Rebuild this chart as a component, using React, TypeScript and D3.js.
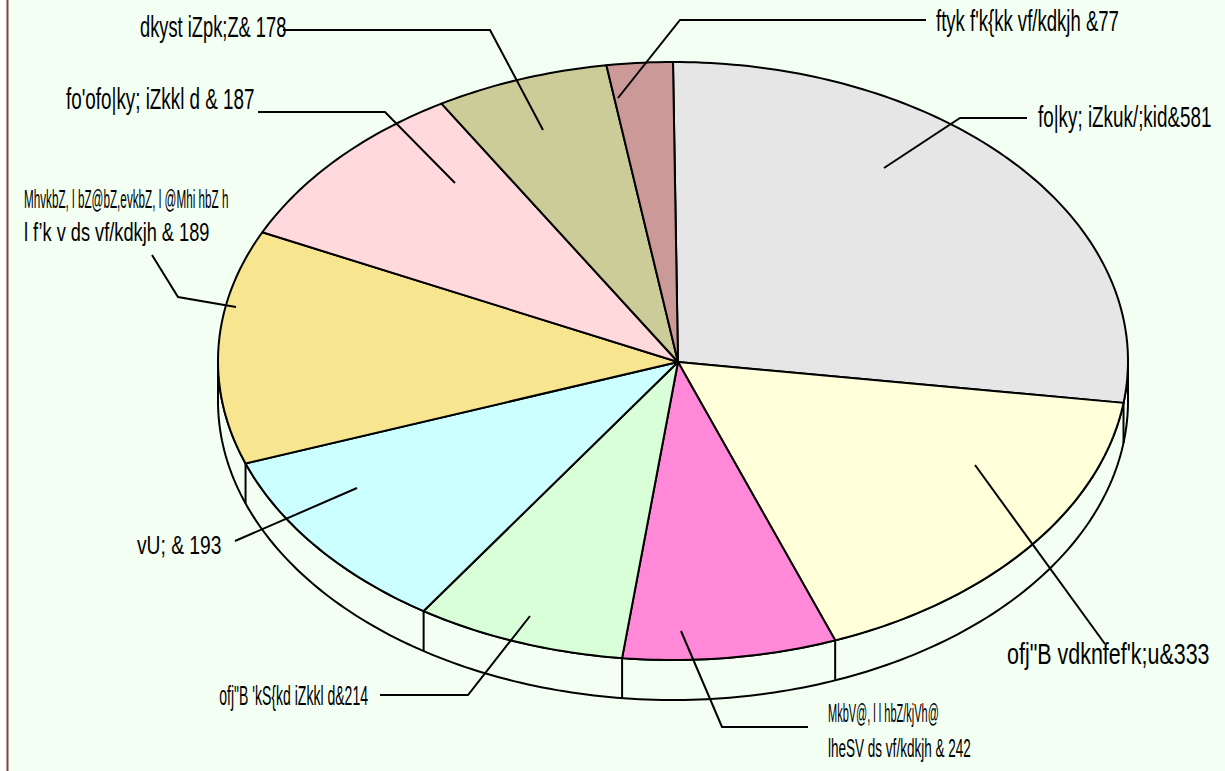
import { useEffect, useRef } from "react"
import * as d3 from "d3"

// slice values, clockwise from 12 o'clock
const values = [581, 333, 242, 214, 193, 189, 187, 178, 77]

// label text (value is appended to the last line)
const labelLines: string[][] = [
  ["fo|ky;  iZkuk/;kid&"],
  ["ofj\"B vdknfef'k;u&"],
  ["MkbV@, l l hbZ/kjVh@", "lheSV ds vf/kdkjh & "],
  ["ofj\"B 'kS{kd iZkkl d&"],
  ["vU;  & "],
  ["MhvkbZ, l bZ@bZ,evkbZ, l @Mhi hbZ h", "l  f\u2019k v  ds vf/kdkjh & "],
  ["fo'ofo|ky;  iZkkl d & "],
  ["dkyst iZpk;Z& "],
  ["ftyk f'k{kk vf/kdkjh &"],
]

const sliceColors = ["#e6e6e6", "#ffffd9", "#ff88d8", "#d9ffd9", "#ccffff", "#f7e68f", "#ffd9dc", "#cccc99", "#cc9999"]

// label placement: text origin, per-line font size / horizontal squeeze, leader polyline
const labelLayout = [
  { x: 1038, y: 127, size: [29], sx: [0.65], gap: 0, anchor: "start", leader: [[1027, 118], [960, 118], [884, 168]] },
  { x: 1007, y: 664, size: [29], sx: [0.74], gap: 0, anchor: "start", leader: [[1105, 644], [975, 465]] },
  { x: 828, y: 722, size: [25, 26], sx: [0.44, 0.52], gap: 35, anchor: "start", leader: [[808, 727], [722, 727], [681, 631]] },
  { x: 368, y: 705, size: [27], sx: [0.52], gap: 0, anchor: "end", leader: [[380, 695], [468, 695], [530, 616]] },
  { x: 137, y: 554, size: [26], sx: [0.74], gap: 0, anchor: "start", leader: [[235, 541], [357, 488]] },
  { x: 24, y: 208, size: [26, 26], sx: [0.45, 0.7], gap: 33, anchor: "start", leader: [[152, 255], [178, 297], [236, 307]] },
  { x: 66, y: 109, size: [29], sx: [0.65], gap: 0, anchor: "start", leader: [[258, 112], [385, 112], [455, 183]] },
  { x: 140, y: 37, size: [30], sx: [0.61], gap: 0, anchor: "start", leader: [[283, 30], [490, 30], [543, 130]] },
  { x: 936, y: 31, size: [29], sx: [0.64], gap: 0, anchor: "start", leader: [[926, 20], [680, 20], [618, 98]] },
]

const W = 1225
const H = 771
const BG = "#f3fff3"

export default function App() {
  const svgRef = useRef<SVGSVGElement>(null)

  useEffect(() => {
    document.body.style.margin = "0"
    const svg = d3.select(svgRef.current)
    svg.selectAll("*").remove()

    // rim ellipse, apex and wall depth
    const cx = 673, cy = 361, rx = 455, ry = 299, depth = 40
    const ax = 678, ay = 362
    const squeeze = 0.66 // 3D view skews slice angles

    const warp = (t: number) => {
      const p = Math.atan2(squeeze * Math.sin(t), Math.cos(t))
      const d = Math.atan2(Math.sin(p - t), Math.cos(p - t))
      return t + d
    }
    const rim = (phi: number, dy = 0): [number, number] => [cx + rx * Math.sin(phi), cy - ry * Math.cos(phi) + dy]
    const arcPts = (a0: number, a1: number, dy = 0) => {
      const n = Math.max(4, Math.ceil(Math.abs(a1 - a0) * 60))
      return d3.range(n + 1).map(i => rim(a0 + ((a1 - a0) * i) / n, dy))
    }
    const line = d3.line()

    // chart background with left border
    svg.append("rect").attr("x", 8).attr("y", 0).attr("width", W - 8).attr("height", H).attr("fill", BG)
    svg.append("line").attr("x1", 7.5).attr("x2", 7.5).attr("y1", 0).attr("y2", H)
      .attr("stroke", "#7a4545").attr("stroke-width", 2)

    const pie = d3.pie<number>().sort(null).value(d => d)
    const arcs = pie(values)

    const g = svg.append("g")

    // side wall (front half)
    const top = arcPts(Math.PI / 2, (3 * Math.PI) / 2)
    const bottom = arcPts(Math.PI / 2, (3 * Math.PI) / 2, depth).reverse()
    g.append("path")
      .attr("d", line([...top, ...bottom]) + "Z")
      .attr("fill", BG).attr("stroke", "#000").attr("stroke-width", 2)

    const edges = [Math.PI / 2, (3 * Math.PI) / 2]
    arcs.forEach(a => {
      const p = warp(a.startAngle)
      if (p > Math.PI / 2 && p < (3 * Math.PI) / 2) edges.push(p)
    })
    edges.forEach(p => {
      const [x, y] = rim(p)
      g.append("line").attr("x1", x).attr("x2", x).attr("y1", y).attr("y2", y + depth)
        .attr("stroke", "#000").attr("stroke-width", 2)
    })

    // top slices
    arcs.forEach((a, i) => {
      const pts = [[ax, ay] as [number, number], ...arcPts(warp(a.startAngle), warp(a.endAngle))]
      g.append("path")
        .attr("d", line(pts) + "Z")
        .attr("fill", sliceColors[i])
        .attr("stroke", "#000")
        .attr("stroke-width", 2)
        .attr("stroke-linejoin", "round")
    })

    // leaders and labels
    const lab = svg.append("g")
    values.forEach((v, i) => {
      const l = labelLayout[i]
      lab.append("path")
        .attr("d", line(l.leader as [number, number][]))
        .attr("fill", "none").attr("stroke", "#000").attr("stroke-width", 2)
      const lines = labelLines[i]
      lines.forEach((t, j) => {
        const txt = j === lines.length - 1 ? `${t}${v}` : t
        lab.append("text")
          .attr("transform", `translate(${l.x},${l.y + j * l.gap}) scale(${l.sx[j]},1)`)
          .attr("text-anchor", l.anchor)
          .style("font-family", "'Liberation Sans', Arial, sans-serif")
          .style("font-size", `${l.size[j]}px`)
          .attr("fill", "#000")
          .text(txt)
      })
    })
  }, [])

  return <svg ref={svgRef} width={W} height={H} style={{ display: "block", background: "#fff" }} />
}
